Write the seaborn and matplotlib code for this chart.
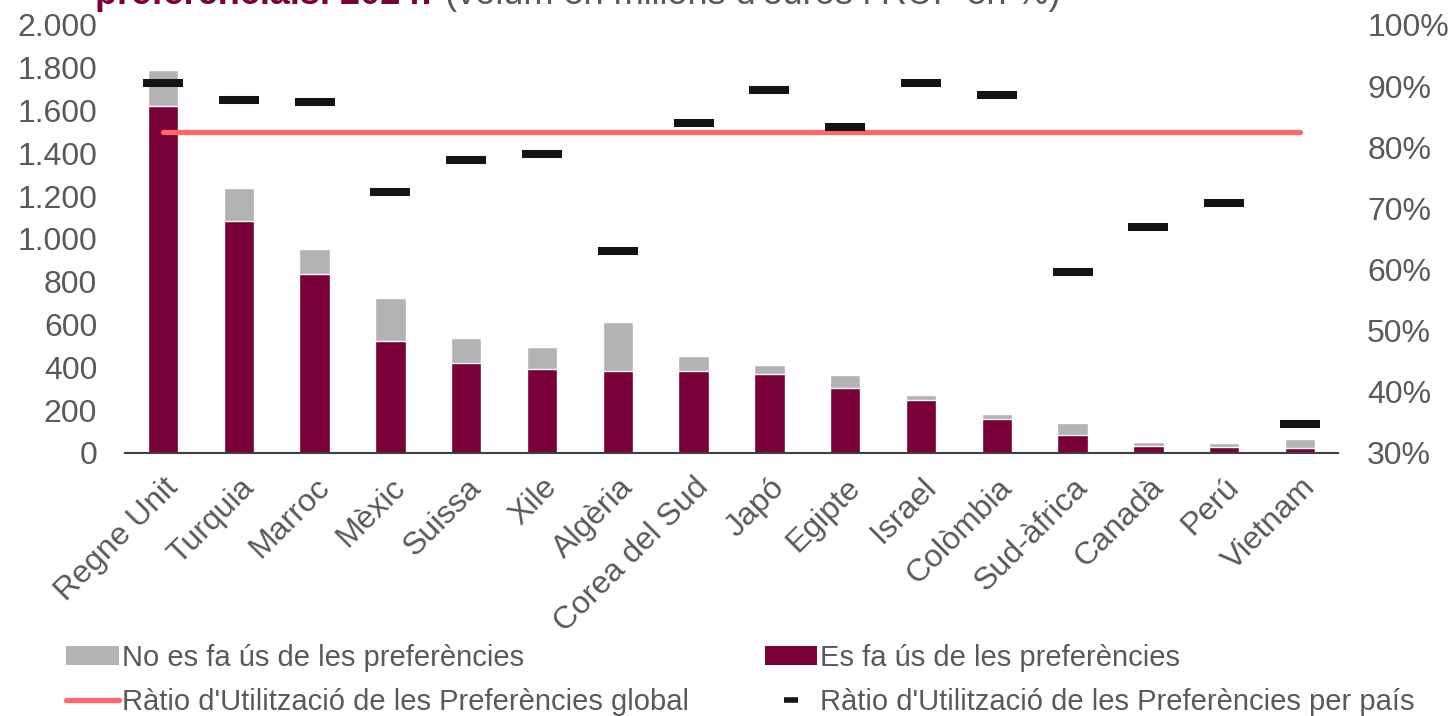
import numpy as np
import pandas as pd
import matplotlib
matplotlib.use('Agg')
import matplotlib.pyplot as plt
import matplotlib.ticker as ticker
from matplotlib.patches import Patch
from matplotlib.lines import Line2D
import seaborn as sns

# dades llegides del gràfic (milions d'euros i RUP en %)
paisos = ['Regne Unit', 'Turquia', 'Marroc', 'Mèxic', 'Suissa', 'Xile', 'Algèria',
          'Corea del Sud', 'Japó', 'Egipte', 'Israel', 'Colòmbia', 'Sud-àfrica',
          'Canadà', 'Perú', 'Vietnam']
total = [1790, 1238, 953, 724, 537, 495, 612, 453, 411, 364, 271, 182, 140, 51, 47, 65]
usat = [1621, 1084, 836, 523, 420, 393, 383, 383, 369, 304, 248, 159, 84, 33, 30, 23]
rup_pais = [90.5, 87.7, 87.4, 72.7, 77.9, 78.9, 63.0, 84.0, 89.4, 83.3, 90.5, 88.6,
            59.6, 67.0, 70.9, 34.7]
rup_global = 82.5

# colors
GRIS = '#b3b3b3'
GRANA = '#790038'
CORALL = '#ff6666'
NEGRE = '#141414'
TEXT = '#595959'

sns.set_style('white')
plt.rcParams['font.family'] = ['Liberation Sans', 'DejaVu Sans']

df = pd.DataFrame({'pais': paisos, 'total': total, 'usat': usat, 'rup': rup_pais})
df['pos'] = np.arange(len(df))

fig = plt.figure(figsize=(14.56, 7.16), dpi=100)
ax = fig.add_axes([125 / 1456, 1 - 453 / 716, (1338 - 125) / 1456, (453 - 25) / 716])

# barres apilades: total (gris) i part utilitzada (grana) al damunt
sns.barplot(data=df, x='pais', y='total', color=GRIS, saturation=1, width=0.4, ax=ax)
sns.barplot(data=df, x='pais', y='usat', color=GRANA, saturation=1, width=0.4, ax=ax)

ax.set_ylim(0, 2000)
ax.set_xlim(-0.5, len(df) - 0.5)
ax.yaxis.set_major_locator(ticker.MultipleLocator(200))
ax.yaxis.set_major_formatter(ticker.FuncFormatter(lambda v, p: f'{v:,.0f}'.replace(',', '.')))
ax.set_xlabel('')
ax.set_ylabel('')
for s in ['left', 'right', 'top']:
    ax.spines[s].set_visible(False)
ax.spines['bottom'].set_color('#404040')
ax.spines['bottom'].set_linewidth(1.5)
ax.tick_params(axis='y', length=0, labelsize=23, labelcolor=TEXT, pad=20)
ax.tick_params(axis='x', length=0, labelsize=23, labelcolor=TEXT, pad=14)
plt.setp(ax.get_xticklabels(), rotation=45, ha='right', rotation_mode='anchor')

# eix secundari amb la ràtio d'utilització
ax2 = ax.twinx()
sns.lineplot(x=[df['pos'].iloc[0], df['pos'].iloc[-1]], y=[rup_global, rup_global],
             color=CORALL, linewidth=3.8, solid_capstyle='round', ax=ax2)
sns.scatterplot(data=df, x='pos', y='rup', marker='_', s=29 ** 2, linewidth=5.8,
                color=NEGRE, edgecolor=NEGRE, ax=ax2, zorder=5)
ax2.set_ylim(30, 100)
ax2.set_xlim(-0.5, len(df) - 0.5)
ax2.yaxis.set_major_locator(ticker.MultipleLocator(10))
ax2.yaxis.set_major_formatter(ticker.FuncFormatter(lambda v, p: f'{v:.0f}%'))
ax2.set_ylabel('')
ax2.set_xlabel('')
for s in ax2.spines.values():
    s.set_visible(False)
ax2.tick_params(axis='y', length=0, labelsize=23, labelcolor=TEXT, pad=21)

# títol (retallat a la part superior, com a l'original)
fig.text(95 / 1456, 1 - 4 / 716, 'preferencials. 2024:', color=GRANA, fontsize=26,
         fontweight='bold', va='baseline')
fig.text(445 / 1456, 1 - 4 / 716, "(volum en milions d'euros i RUP en %)", color=TEXT,
         fontsize=26, va='baseline')

# llegenda
handles = [
    Patch(facecolor=GRIS, edgecolor='none'),
    Line2D([], [], color=CORALL, linewidth=3.8, solid_capstyle='round'),
    Patch(facecolor=GRANA, edgecolor='none'),
    Line2D([], [], color=NEGRE, marker='_', linestyle='none', markersize=10, markeredgewidth=4),
]
labels = ['No es fa ús de les preferències',
          "Ràtio d'Utilització de les Preferències global",
          'Es fa ús de les preferències',
          "Ràtio d'Utilització de les Preferències per país"]
fig.legend(handles, labels, ncol=2, loc='lower left', bbox_to_anchor=(40 / 1456, -26 / 716),
           frameon=False, fontsize=21, labelcolor=TEXT, handlelength=1.8, handleheight=0.6,
           handletextpad=0.1, columnspacing=2.6, labelspacing=0.55)

fig.savefig('out.png', dpi=100)
